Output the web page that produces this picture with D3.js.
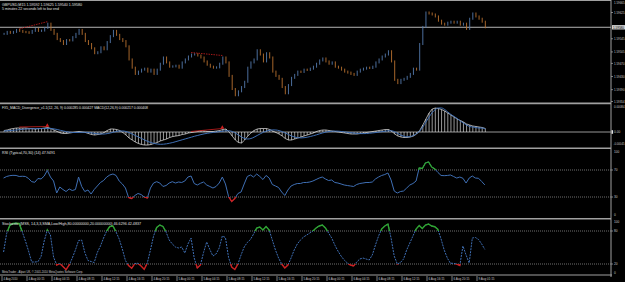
<!DOCTYPE html>
<html><head><meta charset="utf-8">
<script src="https://cdn.jsdelivr.net/npm/d3@7"></script>
<style>html,body{margin:0;padding:0;background:#000;overflow:hidden}</style>
</head><body>
<svg id="c" width="625" height="282"></svg>
<script>
// ---------- DATA (one sample = 2 M15 bars) ----------
const closes = [1.59560,1.59566,1.59563,1.59566,1.59572,1.59569,1.59566,1.59565,1.59563,1.59569,
1.59575,1.59569,1.59570,1.59578,1.59591,1.59572,1.59560,1.59544,1.59538,1.59529,
1.59541,1.59540,1.59550,1.59560,1.59572,1.59560,1.59538,1.59529,1.59516,1.59501,
1.59504,1.59519,1.59513,1.59535,1.59553,1.59569,1.59557,1.59544,1.59538,1.59522,
1.59482,1.59457,1.59438,1.59445,1.59451,1.59454,1.59445,1.59451,1.59438,1.59451,
1.59469,1.59488,1.59473,1.59460,1.59461,1.59463,1.59457,1.59473,1.59482,1.59491,
1.59497,1.59498,1.59494,1.59488,1.59476,1.59466,1.59460,1.59457,1.59458,1.59469,
1.59488,1.59473,1.59432,1.59392,1.59373,1.59385,1.59398,1.59414,1.59457,1.59473,
1.59482,1.59510,1.59497,1.59476,1.59501,1.59488,1.59445,1.59432,1.59423,1.59398,
1.59379,1.59404,1.59426,1.59435,1.59445,1.59444,1.59451,1.59450,1.59454,1.59460,
1.59469,1.59479,1.59485,1.59476,1.59469,1.59473,1.59460,1.59457,1.59451,1.59445,
1.59442,1.59438,1.59435,1.59445,1.59451,1.59454,1.59457,1.59456,1.59460,1.59473,
1.59482,1.59491,1.59497,1.59507,1.59476,1.59420,1.59410,1.59420,1.59423,1.59429,
1.59438,1.59454,1.59451,1.59529,1.59581,1.59625,1.59622,1.59619,1.59613,1.59600,
1.59591,1.59588,1.59594,1.59597,1.59594,1.59597,1.59588,1.59591,1.59575,1.59606,
1.59622,1.59613,1.59606,1.59597,1.59580];

const macdMain = [0.000045,0.00006,0.00009,0.000105,0.00012,0.00012,0.00012,0.00012,0.000105,0.000105,
0.00009,0.000105,0.000105,0.00012,0.000135,0.000105,0.00006,0.000015,-0.00003,-0.000045,
-0.000045,-0.00003,-0.000015,0,0.000015,0,-0.000015,-0.000045,-0.000075,-0.00009,
-0.000075,-0.00006,-0.000015,0.000045,0.00009,0.00009,0.000075,0.000045,-0.000015,-0.00009,
-0.00018,-0.00024,-0.0003,-0.000345,-0.000375,-0.00039,-0.00039,-0.000375,-0.000345,-0.000315,
-0.00027,-0.00024,-0.00021,-0.000165,-0.000135,-0.00012,-0.000105,-0.000075,-0.00006,-0.00003,
-0.000015,0,0.000015,0.00003,0.00003,0.000015,0.000015,0.000015,0.00003,0.000045,
0.000075,0.00009,0,-0.00012,-0.00024,-0.000315,-0.00033,-0.00024,-0.00012,-0.00003,
0.000045,0.00009,0.000105,0.000105,0.000105,0.000075,0.00003,-0.000015,-0.00006,-0.00012,
-0.000195,-0.00024,-0.00024,-0.00021,-0.00018,-0.00015,-0.00012,-0.00009,-0.00006,-0.00003,
0.000015,0.000045,0.00006,0.00006,0.000045,0.00003,0.000015,0,-0.000015,-0.00003,
-0.000045,-0.00006,-0.00006,-0.00006,-0.000045,-0.00003,-0.000015,0,0.000015,0.00003,
0.000045,0.00006,0.000075,0.000075,0.00003,-0.00006,-0.00012,-0.00015,-0.000165,-0.000165,
-0.00015,-0.00012,-0.00006,0.000045,0.00021,0.00039,0.00057,0.00069,0.00072,0.000705,
0.000675,0.00063,0.00057,0.00051,0.00045,0.00039,0.000345,0.0003,0.00024,0.00021,
0.00018,0.000165,0.00015,0.000135,0.000105];

const macdSignal = [0.00003,0.000036,0.000045,0.000054,0.00006,0.000072,0.000081,0.00009,0.000096,0.000099,
0.000099,0.000102,0.000102,0.000105,0.000108,0.000105,0.000093,0.000075,0.000051,0.00003,
0.000009,-0.000006,-0.000015,-0.000015,-0.000012,-0.000009,-0.000009,-0.000015,-0.000027,-0.000042,
-0.000054,-0.00006,-0.00006,-0.000048,-0.00003,-0.000006,0.000015,0.00003,0.00003,0.000015,
-0.000015,-0.00006,-0.000105,-0.00015,-0.000195,-0.00024,-0.000285,-0.000315,-0.000345,-0.00036,
-0.000369,-0.000366,-0.000354,-0.000336,-0.000315,-0.000288,-0.000261,-0.000234,-0.000207,-0.00018,
-0.000153,-0.000126,-0.000102,-0.000078,-0.000057,-0.000039,-0.000024,-0.000012,0,0.000012,
0.000024,0.000036,0.000036,0.000015,-0.00003,-0.00009,-0.00015,-0.000195,-0.00021,-0.000195,
-0.000156,-0.000105,-0.000054,-0.000006,0.00003,0.000054,0.000063,0.00006,0.000042,0.000012,
-0.00003,-0.000075,-0.00012,-0.000153,-0.000171,-0.000177,-0.000171,-0.000156,-0.000135,-0.000111,
-0.000084,-0.000054,-0.000027,-0.000003,0.000015,0.000024,0.000027,0.000024,0.000015,0.000003,
-0.000009,-0.000021,-0.000033,-0.000042,-0.000048,-0.000048,-0.000045,-0.000036,-0.000027,-0.000015,
-0.000003,0.000012,0.000024,0.000036,0.000036,0.000006,-0.000045,-0.000096,-0.000129,-0.000144,
-0.000135,-0.000105,-0.000045,0.00003,0.00015,0.0003,0.00045,0.000585,0.000675,0.00072,
0.00072,0.000675,0.0006,0.000525,0.000465,0.000405,0.00033,0.00027,0.00021,0.000165,
0.00015,0.000135,0.00012,0.00012,0.00009];

const rsiValues = [58.1,60.4,61.6,62.1,61.9,60.4,60.7,60.4,57.4,52.7,
51.8,57.4,56.7,61.1,69.3,59.6,53.7,35.9,44.8,41.1,
38.1,41.9,39.6,41.1,59.6,45.6,38.1,40.4,34.4,41.1,
46.3,51.5,54.4,59.6,62.6,64.1,61.9,53.7,49.3,43.3,
29.3,27.8,32.2,35.2,33.7,30.0,28.5,43.3,50.7,52.7,
50.7,45.6,47.0,50.7,52.7,50.7,52.2,51.5,53.7,59.6,
61.1,50.0,47.8,50.3,52.2,47.8,45.6,43.3,45.6,50.7,
59.6,49.3,30.7,23.3,27.8,35.2,37.4,49.3,60.4,62.6,
59.6,64.1,60.4,55.9,61.9,58.1,48.5,46.3,44.1,37.4,
32.2,40.4,46.3,48.5,50.0,50.0,51.5,51.5,52.2,53.7,
55.9,58.1,59.6,56.7,54.4,55.2,51.5,50.7,49.3,47.8,
47.0,46.3,45.6,48.5,50.0,50.7,51.5,51.5,52.2,56.7,
59.6,61.9,63.3,65.6,55.2,38.9,35.9,38.1,38.9,43.3,
47.8,50.0,53.7,73.0,72.2,80.4,81.9,74.4,71.5,66.3,
61.9,61.6,61.9,62.6,60.4,58.1,59.6,57.7,50.7,58.1,
61.1,58.1,57.7,53.0,47.9];

const stochValues = [41.8,75.8,90.4,93.6,94.0,93.6,78.2,61.8,43.6,23.6,
23.6,24.2,33.6,61.8,81.8,72.7,32.7,18.2,20.9,15.5,
9.6,18.2,30.9,45.5,62.7,63.6,40.9,26.4,24.5,22.7,
40.9,52.7,67.3,80.0,88.2,89.1,78.2,65.5,47.3,26.4,
17.3,12.2,20.9,21.3,16.4,10.4,21.8,45.5,70.9,86.4,
90.9,88.2,78.2,63.6,56.4,50.9,49.1,50.9,40.0,56.4,
67.3,30.9,12.7,18.2,40.9,60.0,46.4,34.5,38.2,49.1,
70.9,68.2,31.8,14.5,10.0,20.0,36.4,50.9,59.1,64.5,
74.5,85.5,87.3,81.8,88.2,81.8,63.6,45.5,30.9,20.0,
12.7,18.2,30.9,45.5,56.4,63.6,69.1,72.7,76.4,80.0,
85.5,89.1,90.9,85.5,76.4,67.3,54.5,43.6,34.5,27.3,
21.8,18.2,16.4,23.6,29.1,30.9,29.1,27.3,36.4,54.5,
70.9,83.6,89.1,92.7,67.3,34.5,20.0,22.7,29.1,45.5,
58.2,70.9,83.6,90.0,84.5,90.9,92.7,89.1,87.8,82.7,
65.5,45.5,30.9,21.3,21.3,20.0,17.3,52.7,36.4,21.8,
67.3,68.2,64.5,56.4,46.6];

const divergences = [[5,14],[60,70]];   // sample index pairs
const timeLabels = ["4 Aug 2010","4 Aug 00:15","4 Aug 04:15","4 Aug 08:15","4 Aug 12:15","4 Aug 16:15","4 Aug 20:15",
"5 Aug 00:15","5 Aug 04:15","5 Aug 08:15","5 Aug 12:15","5 Aug 16:15","5 Aug 20:15",
"6 Aug 00:15","6 Aug 04:15","6 Aug 08:15","6 Aug 12:15","6 Aug 16:15","6 Aug 20:15","9 Aug 01:15"];
const priceTicks = [1.59665,1.59625,1.59545,1.59505,1.59470,1.59430,1.59390,1.59354];
const macdTicks = [0.00084,0,-0.00045];
const rsiTicks = [100,70,30,0];
const stochTicks = [100,80,20,0];
const titleMain = "GBPUSD,M15  1.59592 1.59625 1.59540 1.59580";
const titleTimer = "5 minutes 22 seconds left to bar end";
const titleMacd = "FX5_MACD_Divergence_v1.1(12, 26, 9) 0.000285 0.000427   MACD(12,26,9) 0.000217 0.000408";
const titleRsi = "RSI (Typical,70,30) (14) 47.9491";
const titleStoch = "Stochastic (MSS, 14,3,3,SMA,Low/High,80.00000000,20.00000000) 46.6296 42.4837";
const copyright = "MetaTrader - Alpari UK, \u00A9 2001-2010 MetaQuotes Software Corp.";

// ---------- LAYOUT ----------
const W = 625, H = 282, AX = 611;
const FONT = "'Liberation Sans', Arial, sans-serif";
const TXT = "#c8c8c8", GRID = "#a0a0a0";
const UP = "#5479ad", DOWN = "#b8702f", BLUE = "#3f6fb4", GREEN = "#2fa52f", RED = "#cc2020";

const svg = d3.select('#c');
svg.append('rect').attr('width', W).attr('height', H).attr('fill', '#000');

const x = d3.scaleLinear().domain([0, 311]).range([2, 2 + 311 * 1.5625]);
const sx = i => x(2 * i + 1);
const yP = d3.scaleLinear().domain([1.59354, 1.59625]).range([101.5, 12.5]);
const yM = d3.scaleLinear().domain([-0.00045, 0.00084]).range([147, 104]);
const yR = d3.scaleLinear().domain([0, 100]).range([217.25, 149.75]);
const yS = d3.scaleLinear().domain([0, 100]).range([275, 220]);

function text(x0, y0, s, size, fill, len, anchor) {
  const t = svg.append('text').attr('x', x0).attr('y', y0).text(s)
    .attr('font-family', FONT).attr('font-size', size).attr('fill', fill || TXT);
  if (len) t.attr('textLength', len).attr('lengthAdjust', 'spacingAndGlyphs');
  if (anchor) t.attr('text-anchor', anchor);
  return t;
}
function hline(y0, color, w, dash, x0, x1) {
  const l = svg.append('line').attr('x1', x0 == null ? 0 : x0).attr('x2', x1 == null ? AX : x1)
    .attr('y1', y0).attr('y2', y0).attr('stroke', color).attr('stroke-width', w);
  if (dash) l.attr('stroke-dasharray', dash);
  return l;
}

// ---------- MAIN PANE ----------
const lastClose = closes[closes.length - 1];
hline(0.5, GRID, 1);
hline(yP(lastClose), "#b4b4b4", 1);

// bars (open = previous close)
svg.append('g').selectAll('line').data(closes).join('line')
  .attr('x1', (d, i) => sx(i) + 0.5).attr('x2', (d, i) => sx(i) + 0.5)
  .attr('y1', (d, i) => { const o = i ? closes[i - 1] : d; return Math.min(yP(o), yP(d)) - 1; })
  .attr('y2', (d, i) => { const o = i ? closes[i - 1] : d; return Math.max(yP(o), yP(d)) + 1; })
  .attr('stroke', (d, i) => (i && d < closes[i - 1]) ? DOWN : UP).attr('stroke-width', 0.9);

// divergence lines on price
divergences.forEach(([a, b]) => {
  svg.append('line').attr('x1', sx(a)).attr('x2', sx(b))
    .attr('y1', yP(closes[a]) - 2).attr('y2', yP(closes[b]) - 2)
    .attr('stroke', RED).attr('stroke-width', 0.8).attr('stroke-dasharray', '1.5,1');
});

text(2, 6, titleMain, 3.6, "#e0e0e0", 80);
text(2, 9.8, titleTimer, 3.4, "#e0e0e0", 57);

// ---------- MACD PANE ----------
hline(yM(0), "#a8a8a8", 0.9);
svg.append('g').selectAll('line').data(macdMain).join('line')
  .attr('x1', (d, i) => sx(i) + 0.5).attr('x2', (d, i) => sx(i) + 0.5)
  .attr('y1', yM(0)).attr('y2', d => yM(d))
  .attr('stroke', '#d8d8d8').attr('stroke-width', 0.7);
svg.append('path').datum(macdMain)
  .attr('d', d3.line().x((d, i) => sx(i) + 0.5).y(d => yM(d)))
  .attr('fill', 'none').attr('stroke', '#e8e8e8').attr('stroke-width', 0.7);
svg.append('path').datum(macdSignal)
  .attr('d', d3.line().x((d, i) => sx(i) + 0.5).y(d => yM(d)).curve(d3.curveMonotoneX))
  .attr('fill', 'none').attr('stroke', BLUE).attr('stroke-width', 1);
divergences.forEach(([a, b]) => {
  svg.append('line').attr('x1', sx(a)).attr('x2', sx(b))
    .attr('y1', yM(macdMain[a]) - 1).attr('y2', yM(macdMain[b]) - 1)
    .attr('stroke', RED).attr('stroke-width', 0.8);
  svg.append('path').attr('d', d3.symbol(d3.symbolTriangle, 7)())
    .attr('transform', `translate(${sx(b)},${yM(macdMain[b]) - 2})`).attr('fill', RED);
});
text(2, 109, titleMacd, 3.4, "#e0e0e0", 146);

// ---------- RSI PANE ----------
[70, 30].forEach(v => hline(yR(v), "#8c8c8c", 0.8, '1,1'));
const rsiLine = d3.line().x((d, i) => sx(i)).y(d => yR(d));
svg.append('path').datum(rsiValues).attr('d', rsiLine)
  .attr('fill', 'none').attr('stroke', BLUE).attr('stroke-width', 1);
const defs = svg.append('defs');
defs.append('clipPath').attr('id', 'rsiHi').append('rect')
  .attr('x', 0).attr('width', AX).attr('y', 149).attr('height', yR(70) - 149);
defs.append('clipPath').attr('id', 'rsiLo').append('rect')
  .attr('x', 0).attr('width', AX).attr('y', yR(30)).attr('height', 218 - yR(30));
svg.append('path').datum(rsiValues).attr('d', rsiLine).attr('clip-path', 'url(#rsiHi)')
  .attr('fill', 'none').attr('stroke', GREEN).attr('stroke-width', 1.3);
svg.append('path').datum(rsiValues).attr('d', rsiLine).attr('clip-path', 'url(#rsiLo)')
  .attr('fill', 'none').attr('stroke', RED).attr('stroke-width', 1.3);
text(2, 153.5, titleRsi, 3.4, "#e0e0e0", 53);

// ---------- STOCHASTIC PANE ----------
[80, 20].forEach(v => hline(yS(v), "#8c8c8c", 0.8, '1,1'));
const stLine = d3.line().x((d, i) => sx(i)).y(d => yS(d));
svg.append('path').datum(stochValues).attr('d', stLine)
  .attr('fill', 'none').attr('stroke', BLUE).attr('stroke-width', 1).attr('stroke-dasharray', '2,1');
defs.append('clipPath').attr('id', 'stHi').append('rect')
  .attr('x', 0).attr('width', AX).attr('y', 219).attr('height', yS(80) - 219);
defs.append('clipPath').attr('id', 'stLo').append('rect')
  .attr('x', 0).attr('width', AX).attr('y', yS(20)).attr('height', 275 - yS(20));
svg.append('path').datum(stochValues).attr('d', stLine).attr('clip-path', 'url(#stHi)')
  .attr('fill', 'none').attr('stroke', GREEN).attr('stroke-width', 1.4);
svg.append('path').datum(stochValues).attr('d', stLine).attr('clip-path', 'url(#stLo)')
  .attr('fill', 'none').attr('stroke', RED).attr('stroke-width', 1.4);
text(2, 225, titleStoch, 3.4, "#e0e0e0", 139);
text(2, 272.5, copyright, 3.2, "#d0d0d0", 81);

// ---------- SEPARATORS & RIGHT AXIS ----------
[103.4, 148.2, 218.8].forEach(y0 => hline(y0, GRID, 1.6));
hline(275, GRID, 1.2, null, 0, AX + 1);
svg.append('line').attr('x1', AX).attr('x2', AX).attr('y1', 0).attr('y2', 277)
  .attr('stroke', GRID).attr('stroke-width', 1);

function axisLabels(ticks, scale, fmt, len) {
  ticks.forEach(v => {
    const yy = scale(v);
    svg.append('line').attr('x1', AX).attr('x2', AX + 2).attr('y1', yy).attr('y2', yy)
      .attr('stroke', GRID).attr('stroke-width', 0.8);
    text(AX + 3, Math.max(yy + 1.2, 3.6), fmt(v), 3.2, TXT, len);
  });
}
axisLabels(priceTicks, yP, v => v.toFixed(5), 10.5);
// current price tag
svg.append('rect').attr('x', AX + 1).attr('y', yP(lastClose) - 2.2).attr('width', 13).attr('height', 4.4).attr('fill', '#d0d0d0');
text(AX + 2, yP(lastClose) + 1.3, lastClose.toFixed(5), 3.3, '#000', 11);

// MACD labels
text(AX + 3, yM(macdTicks[0]) + 4, macdTicks[0].toFixed(5), 3.2, TXT, 10.5);
text(AX + 3, yM(0) + 1.2, "0.00", 3.2, TXT);
svg.append('rect').attr('x', AX + 0.5).attr('y', yM(0) - 1.8).attr('width', 1.6).attr('height', 3.6).attr('fill', '#e0e0e0');
text(AX + 2.5, yM(macdTicks[2]) - 2, macdTicks[2].toFixed(5), 3.1, TXT, 11);

axisLabels([70, 30], yR, v => String(v));
text(AX + 3, yR(100) + 3, "100", 3.2, TXT);
text(AX + 3, yR(0) - 0.8, "0", 3.2, TXT);
axisLabels([80, 20], yS, v => String(v));
text(AX + 3, yS(100) + 3, "100", 3.2, TXT);
text(AX + 3, yS(0) - 0.8, "0", 3.2, TXT);

// ---------- TIME AXIS ----------
timeLabels.forEach((s, k) => {
  const xx = x(16 * k);
  svg.append('line').attr('x1', xx).attr('x2', xx).attr('y1', 276).attr('y2', 281)
    .attr('stroke', GRID).attr('stroke-width', 0.8);
  text(xx + 1.5, 280.3, s, 3.2, TXT, k === 0 ? 14 : 16);
});
</script>
</body></html>
